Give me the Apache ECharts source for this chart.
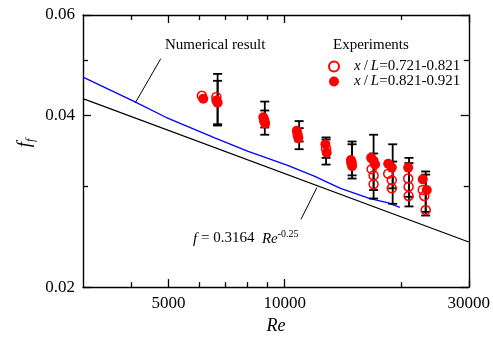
<!DOCTYPE html>
<html>
<head>
<meta charset="utf-8">
<script src="https://cdn.jsdelivr.net/npm/echarts@6/dist/echarts.min.js"></script>
<style>
  html, body { margin: 0; padding: 0; background: #fff; }
  #main { width: 493px; height: 340px; }
</style>
</head>
<body>
<div id="main"></div>
<script>
const SERIF = "'Liberation Serif', 'Times New Roman', serif"

// axis ticks
const reTicks = [5000, 10000, 30000]
const reMinorTicks = [4000, 6000, 7000, 8000, 9000, 20000]
const fTicks = [0.02, 0.04, 0.06]
const fMinorTicks = [0.03, 0.05]

// experiments, x/L = 0.721-0.821 (open circles)  [Re, f]
const openPoints = [
  [6100, 0.0433], [6650, 0.0431], [8850, 0.0392], [10800, 0.0370],
  [12800, 0.0350], [14900, 0.0330],
  [16800, 0.0322], [17000, 0.0314], [17000, 0.0303],
  [18550, 0.0316], [18950, 0.0308], [18950, 0.0298],
  [20900, 0.0310], [20950, 0.0300], [20950, 0.0289],
  [22800, 0.0296], [23000, 0.0289], [23200, 0.0273]
]

// experiments, x/L = 0.821-0.921 (filled circles)
const filledPoints = [
  [6150, 0.0428], [6650, 0.0425], [6700, 0.0421],
  [8800, 0.0397], [8850, 0.0391], [8900, 0.0387],
  [10750, 0.0376], [10850, 0.0365],
  [12750, 0.0356], [12850, 0.0344],
  [14850, 0.0334], [14900, 0.0331], [14950, 0.0326],
  [16750, 0.0337], [17000, 0.0333], [17150, 0.0328],
  [18550, 0.0329], [18950, 0.0324],
  [20900, 0.0324],
  [22800, 0.0309], [23350, 0.0296]
]

// error bars [Re, low, high]
const errorBars = [
  [6700, 0.0384, 0.0473], [6700, 0.0386, 0.0460],
  [8880, 0.0370, 0.0423], [8880, 0.0381, 0.0408],
  [10900, 0.0349, 0.0391], [10900, 0.0360, 0.0380],
  [12800, 0.0328, 0.0366], [12800, 0.0337, 0.0363],
  [14950, 0.0310, 0.0360], [14950, 0.0314, 0.0356],
  [17000, 0.0286, 0.0370], [17000, 0.0296, 0.0343],
  [19050, 0.0280, 0.0356], [19050, 0.0298, 0.0332],
  [21000, 0.0277, 0.0337], [21000, 0.0288, 0.0330],
  [23200, 0.0267, 0.0319], [23200, 0.0271, 0.0315]
]

// numerical result (blue)
const numerical = [
  [3000, 0.0467], [4080, 0.0423], [4920, 0.0397], [6610, 0.0365],
  [8040, 0.0346], [10180, 0.0327], [11930, 0.0313], [13950, 0.0298],
  [16650, 0.0286], [18560, 0.0281], [19880, 0.0276]
]

// f = 0.3164 Re^-0.25, end points
const blasius = [[3000, 0.0428], [30000, 0.0240]]

// leader lines of the two annotations
const leaderNumerical = [[4773, 0.0503], [4100, 0.0421]]
const leaderBlasius = [[12120, 0.0299], [11020, 0.0263]]

const chart = echarts.init(document.getElementById('main'), null, { renderer: 'canvas' })

const axisLine = { show: true, onZero: false, lineStyle: { color: '#000', width: 1.4 } }

function xAxisOf(position, ticks, len, withLabels) {
  return {
    type: 'log', logBase: 10, min: 3000, max: 30000, position: position,
    axisLine: withLabels !== null ? axisLine : { show: false },
    axisTick: { show: true, inside: true, length: len, customValues: ticks, lineStyle: { color: '#000', width: 1.3 } },
    axisLabel: withLabels ? {
      show: true, customValues: ticks, margin: 8, color: '#000',
      fontFamily: SERIF, fontSize: 17, formatter: v => String(Math.round(v))
    } : { show: false },
    splitLine: { show: false },
    minorTick: { show: false },
    name: withLabels ? 'Re' : '',
    nameLocation: 'middle', nameGap: 27,
    nameTextStyle: { fontFamily: SERIF, fontSize: 18, fontStyle: 'italic', color: '#000' }
  }
}

function yAxisOf(position, ticks, len, withLabels) {
  return {
    type: 'log', logBase: 10, min: 0.02, max: 0.06, position: position,
    axisLine: withLabels !== null ? axisLine : { show: false },
    axisTick: { show: true, inside: true, length: len, customValues: ticks, lineStyle: { color: '#000', width: 1.3 } },
    axisLabel: withLabels ? {
      show: true, customValues: ticks, margin: 8, color: '#000',
      fontFamily: SERIF, fontSize: 17, formatter: v => v.toFixed(2)
    } : { show: false },
    splitLine: { show: false },
    minorTick: { show: false }
  }
}

const option = {
  animation: false,
  backgroundColor: '#fff',
  grid: { left: 83, right: 20, top: 15, bottom: 45, containLabel: false },
  xAxis: [
    xAxisOf('bottom', reTicks, 8, true),
    xAxisOf('bottom', reMinorTicks, 5, null),
    xAxisOf('top', reTicks, 8, false),
    xAxisOf('top', reMinorTicks, 5, null)
  ],
  yAxis: [
    yAxisOf('left', fTicks, 8, true),
    yAxisOf('left', fMinorTicks, 5, null),
    yAxisOf('right', fTicks, 8, false),
    yAxisOf('right', fMinorTicks, 5, null)
  ],
  legend: {
    data: ['x/L=0.721-0.821', 'x/L=0.821-0.921'],
    orient: 'vertical', left: 323, top: 54,
    itemWidth: 10, itemHeight: 10, itemGap: 0,
    formatter: name => name.replace('x/L', '{i|x}\u2009/\u2009{i|L}'),
    textStyle: {
      fontFamily: SERIF, fontSize: 15, color: '#000', lineHeight: 14, padding: [0, 0, 0, 10],
      rich: { i: { fontFamily: SERIF, fontSize: 15, fontStyle: 'italic', lineHeight: 14 } }
    }
  },
  graphic: [
    { type: 'text', left: 165, top: 38, style: { text: 'Numerical result', font: '15px ' + SERIF, fill: '#000' } },
    { type: 'text', left: 333, top: 38, style: { text: 'Experiments', font: '15px ' + SERIF, fill: '#000' } },
    {
      type: 'text', left: 193, top: 229,
      style: {
        text: '{i|f} = 0.3164  {i|Re}{s|-0.25}',
        fontFamily: SERIF, fontSize: 15, fill: '#000',
        rich: {
          i: { fontFamily: SERIF, fontSize: 15, fontStyle: 'italic', lineHeight: 18, verticalAlign: 'bottom' },
          s: { fontFamily: SERIF, fontSize: 10, lineHeight: 18, verticalAlign: 'top' }
        }
      }
    },
    {
      type: 'text', x: 26, y: 143, rotation: Math.PI / 2,
      style: {
        text: '{i|f}{s|f}', align: 'center', verticalAlign: 'middle',
        rich: {
          i: { fontFamily: SERIF, fontSize: 19, fontStyle: 'italic', lineHeight: 22, verticalAlign: 'top' },
          s: { fontFamily: SERIF, fontSize: 12, fontStyle: 'italic', lineHeight: 22, verticalAlign: 'bottom' }
        }
      }
    }
  ],
  series: [
    {
      name: 'Blasius', type: 'line', data: blasius, symbol: 'none',
      lineStyle: { color: '#000', width: 1.2 }, z: 2
    },
    {
      name: 'Numerical result', type: 'line', data: numerical, symbol: 'none',
      lineStyle: { color: '#0000ff', width: 1.3 }, z: 2
    },
    {
      name: 'leader1', type: 'line', data: leaderNumerical, symbol: 'none',
      lineStyle: { color: '#000', width: 1 }, z: 2
    },
    {
      name: 'leader2', type: 'line', data: leaderBlasius, symbol: 'none',
      lineStyle: { color: '#000', width: 1 }, z: 2
    },
    {
      name: 'error', type: 'custom', data: errorBars, z: 3,
      encode: { x: 0, y: [1, 2] },
      renderItem: (params, api) => {
        const x = api.value(0)
        const lo = api.coord([x, api.value(1)])
        const hi = api.coord([x, api.value(2)])
        const w = 4.5
        const st = { stroke: '#000', lineWidth: 1.8 }
        return {
          type: 'group',
          children: [
            { type: 'line', shape: { x1: lo[0], y1: lo[1], x2: hi[0], y2: hi[1] }, style: st },
            { type: 'line', shape: { x1: lo[0] - w, y1: lo[1], x2: lo[0] + w, y2: lo[1] }, style: st },
            { type: 'line', shape: { x1: hi[0] - w, y1: hi[1], x2: hi[0] + w, y2: hi[1] }, style: st }
          ]
        }
      }
    },
    {
      name: 'x/L=0.721-0.821', type: 'scatter', data: openPoints, symbol: 'circle', symbolSize: 9,
      itemStyle: { color: 'rgba(255,255,255,0)', borderColor: '#ff0000', borderWidth: 1.5, opacity: 1 }, z: 4
    },
    {
      name: 'x/L=0.821-0.921', type: 'scatter', data: filledPoints, symbol: 'circle', symbolSize: 10,
      itemStyle: { color: '#ff0000', opacity: 1 }, z: 5
    }
  ]
}

chart.setOption(option)
</script>
</body>
</html>
